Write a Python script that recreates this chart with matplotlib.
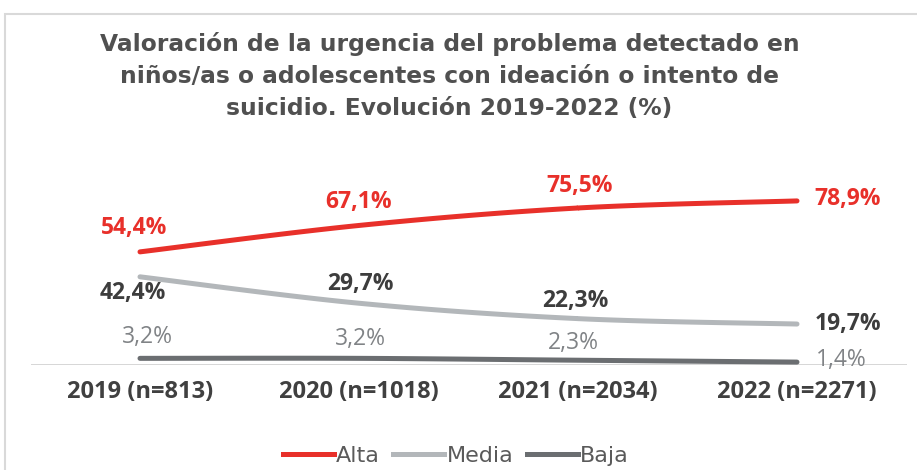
import numpy as np
import matplotlib.pyplot as plt
from matplotlib.patches import Rectangle

years = ['2019 (n=813)', '2020 (n=1018)', '2021 (n=2034)', '2022 (n=2271)']
alta = [54.4, 67.1, 75.5, 78.9]
media = [42.4, 29.7, 22.3, 19.7]
baja = [3.2, 3.2, 2.3, 1.4]


def smooth(y, n=40):
    # Catmull-Rom curve through the points, like a smoothed Excel line
    x = np.arange(len(y), dtype=float)
    p = np.column_stack([x, y])
    p = np.vstack([p[0], p, p[-1]])
    out = []
    for i in range(1, len(p) - 2):
        p0, p1, p2, p3 = p[i - 1], p[i], p[i + 1], p[i + 2]
        t = np.linspace(0, 1, n)[:, None]
        c = 0.5 * ((2 * p1) + (-p0 + p2) * t + (2 * p0 - 5 * p1 + 4 * p2 - p3) * t**2
                   + (-p0 + 3 * p1 - 3 * p2 + p3) * t**3)
        out.append(c)
    c = np.vstack(out)
    return c[:, 0], c[:, 1]


fig = plt.figure(figsize=(9.17, 4.70), dpi=100)
fig.patches.append(Rectangle((5 / 917, -0.1), 1.0, 1 - 14 / 470 + 0.1, transform=fig.transFigure,
                             fill=False, edgecolor='#d9d9d9', linewidth=1.5))
ax = fig.add_axes([30.5 / 917, 105 / 470, 876 / 917, 188 / 470])

red = '#e8302a'
light = '#b3b7ba'
dark = '#6b6e71'

for vals, col in [(baja, dark), (media, light), (alta, red)]:
    xs, ys = smooth(vals)
    ax.plot(xs, ys, color=col, lw=3.6, solid_capstyle='round')

ax.axhline(0, color='#d0d0d0', lw=1.2, zorder=0)
ax.set_xlim(-0.5, 3.5)
ax.set_ylim(0, 90.4)
for s in ax.spines.values():
    s.set_visible(False)
ax.set_yticks([])
ax.set_xticks(range(4))
ax.set_xticklabels(years, fontsize=17, fontweight='bold', color='#404040', family='Open Sans')
ax.tick_params(axis='x', length=0, pad=11)

lab = dict(family='Open Sans', fontsize=16.5, ha='center', va='center')
fmt = lambda v: f'{v:.1f}%'.replace('.', ',')

# pixel offsets of each label from its point
alta_off = [(-6, 24), (0, 23), (2, 22), (51, 2)]
for i, (v, o) in enumerate(zip(alta, alta_off)):
    ax.annotate(fmt(v), (i, v), xytext=o, textcoords='offset pixels', color=red,
                fontweight='bold', **lab)
media_off = [(-7, -16), (1, 19), (-3, 18), (51, 0)]
for i, (v, o) in enumerate(zip(media, media_off)):
    ax.annotate(fmt(v), (i, v), xytext=o, textcoords='offset pixels', color='#3d3d3d',
                fontweight='bold', **lab)
baja_off = [(7, 21), (1, 19), (-5, 17), (44, 2)]
for i, (v, o) in enumerate(zip(baja, baja_off)):
    ax.annotate(fmt(v), (i, v), xytext=o, textcoords='offset pixels', color='#808386', **lab)

fig.text(0.49, 1 - 76 / 470,
         'Valoración de la urgencia del problema detectado en\n'
         'niños/as o adolescentes con ideación o intento de\n'
         'suicidio. Evolución 2019-2022 (%)',
         ha='center', va='center', fontsize=16.8, fontweight='bold', color='#505050',
         family='DejaVu Sans', linespacing=1.5)

handles = [plt.Line2D([], [], color=c, lw=3.6) for c in (red, light, dark)]
fig.legend(handles, ['Alta', 'Media', 'Baja'], loc='center', bbox_to_anchor=(0.497, 1 - 456 / 470),
           ncol=3, frameon=False, handlelength=2.3, handletextpad=0.1,
           columnspacing=0.6, labelcolor='#5a5a5a', prop={'family': 'DejaVu Sans', 'size': 16})

fig.savefig('out.png', dpi=100, facecolor='white')
